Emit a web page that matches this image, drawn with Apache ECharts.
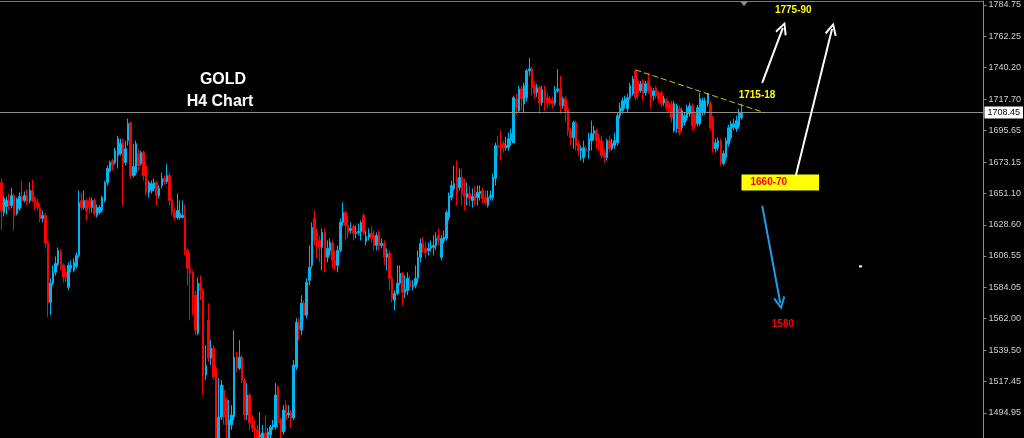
<!DOCTYPE html>
<html>
<head>
<meta charset="utf-8">
<script src="https://cdn.jsdelivr.net/npm/echarts@6/dist/echarts.min.js"></script>
<style>
html,body{margin:0;padding:0;background:#000;}
#chart{width:1024px;height:438px;}
</style>
</head>
<body>
<div id="chart"></div>
<script>
// H4 gold candles: [open, close, low, high]
const candles = [
[1658.6,1638.8,1624.6,1661.5],[1637.4,1647.3,1634.5,1649.4],[1641.6,1645.9,1636.0,1648.7],[1645.9,1642.3,1638.8,1650.8],
[1642.3,1649.4,1640.2,1655.1],[1649.4,1635.3,1624.6,1650.8],[1636.7,1646.6,1635.3,1648.0],[1640.2,1648.7,1638.8,1651.6],
[1648.7,1645.9,1640.9,1660.0],[1645.9,1649.4,1644.5,1652.3],[1649.4,1645.2,1642.3,1653.7],[1645.9,1653.0,1643.8,1658.6],
[1653.0,1645.9,1644.5,1660.8],[1647.3,1644.5,1638.8,1648.7],[1644.5,1640.9,1638.8,1647.3],[1640.9,1633.1,1630.3,1643.8],
[1633.1,1635.3,1630.3,1638.8],[1635.3,1615.4,1611.9,1637.4],[1616.1,1573.6,1563.0,1617.5],[1573.6,1587.1,1564.4,1590.6],
[1587.1,1594.9,1585.6,1599.8],[1594.9,1601.2,1592.7,1606.2],[1600.5,1610.4,1599.1,1612.6],[1609.0,1599.8,1596.3,1611.2],
[1599.8,1591.3,1587.8,1601.2],[1594.9,1591.3,1587.8,1597.7],[1584.2,1599.8,1582.1,1602.0],[1597.7,1599.8,1594.9,1603.4],
[1596.3,1602.0,1594.9,1604.8],[1599.1,1606.9,1597.7,1609.0],[1606.9,1644.5,1605.5,1653.0],[1645.9,1640.9,1638.8,1651.6],
[1640.9,1645.9,1639.5,1653.0],[1645.9,1638.8,1631.7,1647.3],[1645.9,1640.9,1636.7,1648.7],[1640.9,1645.9,1637.4,1648.0],
[1645.9,1636.7,1634.5,1647.3],[1635.3,1640.9,1633.8,1643.0],[1637.4,1640.9,1636.0,1642.3],[1638.8,1648.0,1637.4,1649.4],
[1645.9,1658.6,1644.5,1660.0],[1658.6,1668.6,1656.5,1670.7],[1667.1,1672.8,1665.7,1674.2],[1674.2,1670.7,1667.1,1675.6],
[1672.8,1681.3,1671.4,1683.4],[1677.8,1689.8,1668.6,1691.9],[1679.2,1686.3,1677.8,1689.8],[1686.3,1672.1,1642.3,1689.8],
[1672.8,1682.7,1670.7,1688.4],[1688.4,1700.4,1684.9,1704.0],[1701.2,1663.6,1661.5,1701.9],[1663.6,1670.0,1662.2,1686.3],
[1665.7,1686.3,1663.6,1688.4],[1679.2,1670.7,1667.1,1682.7],[1672.1,1679.9,1670.7,1681.3],[1679.9,1663.6,1660.0,1681.3],
[1670.7,1651.6,1649.4,1674.2],[1651.6,1658.6,1648.0,1660.0],[1653.0,1657.9,1650.8,1660.0],[1654.4,1658.6,1652.3,1661.5],
[1658.6,1649.4,1642.3,1660.0],[1649.4,1654.4,1647.3,1656.5],[1656.5,1661.5,1654.4,1665.7],[1661.5,1659.3,1657.2,1663.6],
[1659.3,1663.6,1657.9,1672.1],[1663.6,1645.9,1642.3,1665.7],[1645.9,1637.4,1635.3,1648.0],[1637.4,1633.8,1631.7,1640.2],
[1633.8,1638.8,1632.4,1650.8],[1633.8,1636.7,1632.4,1645.9],[1633.8,1635.3,1633.1,1645.9],[1634.5,1610.4,1606.9,1643.0],
[1610.4,1597.7,1585.6,1611.9],[1597.7,1594.2,1560.8,1609.0],[1594.9,1577.1,1564.4,1596.3],[1578.6,1553.8,1550.2,1582.1],
[1551.6,1587.1,1550.2,1591.3],[1587.1,1582.1,1575.0,1592.7],[1582.1,1521.9,1507.7,1583.5],[1521.9,1529.0,1518.3,1543.1],
[1560.8,1533.9,1531.1,1572.9],[1533.9,1541.0,1529.0,1546.7],[1541.0,1520.5,1518.3,1543.1],[1526.8,1477.2,1472.3,1529.0],
[1477.2,1492.1,1472.3,1519.7],[1492.1,1514.8,1490.0,1518.3],[1511.2,1492.1,1486.5,1514.8],[1504.2,1486.5,1477.2,1505.6],
[1477.2,1490.0,1472.3,1504.2],[1486.5,1493.5,1482.9,1500.6],[1492.1,1534.6,1490.0,1553.8],[1534.6,1526.8,1524.0,1538.2],
[1526.8,1534.6,1525.4,1546.7],[1534.6,1518.3,1516.2,1536.1],[1518.3,1493.5,1490.0,1519.7],[1493.5,1507.7,1490.0,1516.2],
[1507.7,1487.9,1482.9,1509.1],[1487.9,1484.3,1481.5,1493.5],[1484.3,1482.9,1477.2,1490.0],[1482.9,1477.2,1472.3,1486.5],
[1478.0,1479.4,1472.3,1495.7],[1477.2,1480.8,1472.3,1486.5],[1480.8,1477.2,1472.3,1493.5],[1477.2,1481.5,1472.3,1484.3],
[1479.4,1485.0,1475.8,1486.5],[1485.0,1486.5,1482.9,1490.0],[1485.0,1507.7,1482.9,1516.2],[1513.4,1487.9,1484.3,1514.8],
[1490.0,1481.5,1477.2,1491.4],[1481.5,1497.1,1479.4,1500.6],[1500.6,1490.0,1482.9,1504.2],[1493.5,1495.0,1491.4,1500.6],
[1495.0,1491.4,1484.3,1497.1],[1491.4,1529.0,1490.0,1532.5],[1527.5,1559.4,1525.4,1562.3],[1559.4,1553.8,1546.7,1562.3],
[1553.8,1572.9,1550.2,1578.6],[1572.9,1564.4,1560.8,1575.0],[1564.4,1587.8,1562.3,1590.6],[1589.2,1598.4,1585.6,1614.0],
[1599.8,1626.7,1597.7,1630.3],[1633.1,1617.5,1614.0,1638.8],[1623.2,1617.5,1604.8,1626.0],[1617.5,1612.6,1602.0,1621.1],
[1612.6,1623.2,1596.3,1626.0],[1623.2,1605.5,1594.9,1626.0],[1605.5,1611.9,1602.0,1617.5],[1610.4,1616.1,1606.9,1619.0],
[1615.4,1603.4,1597.7,1617.5],[1603.4,1599.8,1596.3,1610.4],[1599.8,1610.4,1594.9,1614.0],[1610.4,1630.3,1609.0,1633.1],
[1630.3,1637.4,1628.2,1644.5],[1637.4,1628.2,1617.5,1638.8],[1628.2,1623.2,1619.0,1635.3],[1624.6,1626.0,1622.5,1630.3],
[1627.5,1622.5,1617.5,1628.9],[1622.5,1623.2,1619.0,1628.2],[1623.2,1623.9,1621.1,1629.6],[1623.9,1630.3,1617.5,1631.7],
[1635.3,1623.2,1621.1,1636.7],[1616.8,1620.4,1614.0,1624.6],[1619.7,1622.5,1617.5,1626.0],[1622.5,1619.0,1616.1,1627.5],
[1621.1,1614.0,1610.4,1624.6],[1614.0,1621.1,1610.4,1623.2],[1623.2,1614.0,1610.4,1624.6],[1614.0,1615.4,1611.9,1619.0],
[1615.4,1605.5,1599.8,1617.5],[1605.5,1608.3,1596.3,1611.9],[1608.3,1590.6,1582.1,1610.4],[1590.6,1576.4,1573.6,1592.7],
[1575.0,1580.0,1567.9,1582.1],[1580.0,1587.1,1578.6,1599.8],[1587.1,1594.2,1585.6,1599.8],[1594.2,1580.7,1571.5,1594.9],
[1580.7,1582.8,1576.4,1592.7],[1582.1,1590.6,1578.6,1594.9],[1589.2,1584.2,1582.1,1592.7],[1584.2,1585.6,1582.1,1589.2],
[1585.6,1590.6,1583.5,1599.8],[1590.6,1605.5,1587.1,1610.4],[1605.5,1615.4,1602.0,1619.0],[1615.4,1611.9,1609.0,1619.7],
[1611.9,1609.0,1604.8,1616.8],[1610.4,1611.9,1606.9,1616.1],[1611.9,1613.3,1609.7,1617.5],[1612.6,1614.0,1606.9,1621.1],
[1614.0,1619.0,1610.4,1623.2],[1621.1,1617.5,1614.0,1626.0],[1605.5,1619.0,1603.4,1621.1],[1617.5,1619.7,1615.4,1624.6],
[1619.0,1637.4,1617.5,1638.8],[1633.8,1649.4,1631.7,1651.6],[1648.0,1656.5,1645.9,1660.0],[1654.4,1657.9,1653.0,1670.7],
[1662.2,1650.8,1642.3,1674.2],[1655.1,1662.2,1653.0,1668.6],[1662.2,1650.8,1642.3,1668.6],[1650.8,1648.7,1638.8,1661.5],
[1648.0,1650.8,1642.3,1658.6],[1650.8,1647.3,1641.6,1656.5],[1645.9,1648.7,1640.9,1654.4],[1650.8,1645.9,1642.3,1655.8],
[1648.0,1651.6,1642.3,1656.5],[1650.8,1652.3,1645.9,1656.5],[1653.0,1647.3,1643.8,1655.1],[1648.0,1644.5,1642.3,1653.0],
[1642.3,1648.0,1640.9,1653.0],[1648.0,1649.4,1645.9,1653.0],[1648.0,1662.2,1645.9,1665.0],[1661.5,1684.9,1656.5,1687.0],
[1684.9,1683.4,1677.8,1691.9],[1687.0,1682.7,1674.2,1695.5],[1686.3,1683.4,1679.9,1688.4],[1683.4,1684.9,1681.3,1691.2],
[1683.4,1689.8,1681.3,1694.1],[1688.4,1693.4,1684.9,1696.9],[1687.0,1718.9,1686.3,1720.3],[1718.2,1711.8,1706.1,1721.7],
[1709.7,1725.2,1708.2,1727.4],[1725.2,1718.2,1709.7,1727.4],[1714.6,1727.4,1708.2,1729.5],[1718.9,1738.0,1716.7,1739.4],
[1738.0,1739.4,1734.5,1747.2],[1739.4,1725.9,1720.3,1740.8],[1727.4,1721.7,1718.2,1730.9],[1722.4,1725.9,1719.6,1728.8],
[1725.9,1715.3,1707.5,1727.4],[1715.3,1724.5,1713.2,1727.4],[1724.5,1718.2,1709.7,1727.4],[1718.9,1715.3,1711.1,1722.4],
[1718.2,1715.3,1713.2,1720.3],[1716.7,1714.6,1711.1,1719.6],[1715.3,1723.8,1713.2,1727.4],[1723.8,1725.2,1722.4,1739.4],
[1725.2,1713.2,1707.5,1734.5],[1713.2,1718.2,1711.1,1719.6],[1718.2,1709.7,1701.2,1720.3],[1711.1,1695.5,1691.9,1713.2],
[1695.5,1690.5,1684.9,1697.6],[1690.5,1701.2,1682.7,1702.6],[1701.2,1684.9,1681.3,1702.6],[1686.3,1681.3,1677.8,1688.4],
[1681.3,1682.7,1674.2,1684.9],[1676.4,1683.4,1672.8,1688.4],[1682.7,1680.6,1677.8,1684.9],[1681.3,1689.8,1675.6,1694.1],
[1688.4,1693.4,1681.3,1702.6],[1693.4,1695.5,1688.4,1699.0],[1695.5,1688.4,1682.7,1696.9],[1690.5,1686.3,1681.3,1693.4],
[1688.4,1677.8,1675.6,1691.9],[1679.9,1676.4,1672.8,1682.7],[1676.4,1688.4,1674.2,1689.8],[1688.4,1682.7,1679.9,1691.9],
[1682.7,1686.3,1681.3,1689.8],[1684.9,1688.4,1682.7,1694.1],[1687.0,1706.1,1684.9,1708.2],[1706.1,1711.8,1704.0,1715.3],
[1709.7,1716.7,1707.5,1718.9],[1714.6,1718.2,1711.1,1720.3],[1711.1,1718.9,1708.2,1721.7],[1718.9,1727.4,1717.5,1729.5],
[1721.7,1732.3,1720.3,1734.5],[1738.0,1718.9,1716.7,1738.7],[1730.9,1722.4,1718.2,1733.0],[1723.8,1728.8,1722.4,1730.9],
[1730.9,1721.7,1716.7,1732.3],[1722.4,1728.8,1720.3,1730.9],[1730.9,1723.8,1721.7,1736.6],[1725.9,1718.2,1711.1,1727.4],
[1720.3,1723.8,1716.7,1725.9],[1725.9,1720.3,1718.2,1727.4],[1722.4,1718.2,1715.3,1723.8],[1722.4,1714.6,1712.5,1723.8],
[1715.3,1718.2,1713.2,1720.3],[1716.7,1711.8,1709.7,1718.9],[1715.3,1711.1,1708.2,1716.7],[1714.6,1704.7,1701.2,1716.7],
[1695.5,1714.6,1694.1,1716.7],[1696.9,1713.2,1694.1,1714.6],[1711.1,1694.1,1691.9,1713.2],[1697.6,1709.7,1695.5,1711.8],
[1701.2,1706.1,1699.0,1708.2],[1704.7,1711.8,1702.6,1713.9],[1707.5,1713.2,1705.4,1715.3],[1713.2,1699.0,1695.5,1714.6],
[1707.5,1699.0,1696.9,1709.7],[1700.4,1711.8,1698.3,1713.9],[1700.4,1718.2,1699.0,1722.4],[1708.2,1716.7,1706.1,1718.9],
[1708.2,1716.7,1706.8,1718.9],[1714.6,1721.7,1712.5,1722.4],[1714.6,1697.6,1695.5,1716.7],[1704.0,1682.7,1679.9,1706.1],
[1682.7,1687.0,1679.9,1689.8],[1683.4,1688.4,1681.3,1690.5],[1688.4,1672.8,1670.7,1689.8],[1672.1,1679.2,1670.7,1681.3],
[1676.4,1688.4,1674.2,1690.5],[1686.3,1697.6,1684.1,1699.7],[1690.5,1700.4,1688.4,1702.6],[1697.6,1700.4,1695.5,1704.0],
[1696.9,1702.6,1694.8,1706.1],[1699.0,1708.2,1696.9,1711.1],[1704.7,1708.45,1703.3,1714.6]
];

// right-hand price scale labels
const tickLabels = ['1784.75','1762.25','1740.20','1717.70','1695.65','1673.15','1651.10','1628.60','1606.55','1584.05','1562.00','1539.50','1517.45','1494.95'];
const yMin = 1477.2, yMax = 1787.6;
const slots = 380; // bar slots across the window (incl. empty right margin)
const categories = Array.from({length: slots}, (_, i) => String(i));

const currentPrice = 1708.45;
// trend line (bar index, price)
const trendStart = [245, 1738.7], trendEnd = [295, 1708.2];
// arrows: [tail, head]
const arrowShort = [[294, 1729.5], [302, 1768.5]];
const arrowLong = [[307, 1663.6], [321, 1767.8]];
const arrowDown = [[294, 1642.3], [301, 1572.9]];
// support zone box
const zoneBox = [[286, 1664.3], [316, 1653.0]];
const labels = [
  {text: '1715-18', at: [292, 1720.6], color: '#ffff00'},
  {text: '1775-90', at: [306, 1781.2], color: '#ffff00'},
  {text: '1580', at: [302, 1558.0], color: '#ff0000'}
];

const chevron = 'path://M0,10 L5,0 L10,10 L8.6,11 L5,3.4 L1.4,11 Z';
const ticks = tickLabels.map(Number);

const chart = echarts.init(document.getElementById('chart'), null, {renderer: 'canvas'});
chart.setOption({
  backgroundColor: '#000',
  animation: false,
  grid: {left: 0, right: 39, top: 1, bottom: 0},
  xAxis: {
    type: 'category', data: categories, position: 'top', boundaryGap: true,
    axisLine: {show: true, lineStyle: {color: '#7a7a7a', width: 1}},
    axisTick: {show: false}, axisLabel: {show: false}, splitLine: {show: false}
  },
  yAxis: {
    type: 'value', position: 'right', min: yMin, max: yMax, scale: true,
    axisLine: {show: true, lineStyle: {color: '#8a8a8a', width: 1}},
    axisTick: {show: true, customValues: ticks, length: 3, lineStyle: {color: '#8a8a8a'}},
    axisLabel: {show: true, customValues: ticks, formatter: v => v.toFixed(2), color: '#d0d0d0',
      fontSize: 9, fontFamily: 'Liberation Sans', margin: 5},
    splitLine: {show: false}
  },
  graphic: [
    {type: 'text', x: 223, y: 80, style: {text: 'GOLD', fill: '#ffffff', font: 'bold 16px "Liberation Sans"', align: 'center', verticalAlign: 'middle'}},
    {type: 'text', x: 220, y: 102, style: {text: 'H4 Chart', fill: '#ffffff', font: 'bold 16px "Liberation Sans"', align: 'center', verticalAlign: 'middle'}}
  ],
  series: [{
    type: 'candlestick',
    data: candles,
    barWidth: 2,
    clip: true,
    itemStyle: {color: '#00b4f0', color0: '#ff0000', borderColor: '#00b4f0', borderColor0: '#ff0000', borderWidth: 1},
    markLine: {
      silent: true, symbol: 'none',
      data: [
        {yAxis: currentPrice, lineStyle: {color: '#8c8c8c', width: 1, type: 'solid'},
          label: {show: true, position: 'end', formatter: '1708.45', color: '#000', backgroundColor: '#fff',
            fontSize: 9, fontFamily: 'Liberation Sans', padding: [2, 3, 1, 3], distance: 1}},
        [{coord: trendStart, symbol: 'none', lineStyle: {color: '#c8c800', width: 1, type: [6, 3]}, label: {show: false}},
         {coord: trendEnd, symbol: 'none'}],
        [{coord: arrowShort[0], symbol: 'none', lineStyle: {color: '#ffffff', width: 2, type: 'solid'}, label: {show: false}},
         {coord: arrowShort[1], symbol: chevron, symbolSize: [12, 13]}],
        [{coord: arrowLong[0], symbol: 'none', lineStyle: {color: '#ffffff', width: 2, type: 'solid'}, label: {show: false}},
         {coord: arrowLong[1], symbol: chevron, symbolSize: [12, 13]}],
        [{coord: arrowDown[0], symbol: 'none', lineStyle: {color: '#1c9fe6', width: 2, type: 'solid'}, label: {show: false}},
         {coord: arrowDown[1], symbol: chevron, symbolSize: [12, 13]}]
      ]
    },
    markArea: {
      silent: true,
      data: [[
        {coord: zoneBox[0], itemStyle: {color: '#ffff00', opacity: 1},
         label: {show: true, formatter: '1660-70', position: 'insideLeft', distance: 9, color: '#ff0000',
           fontWeight: 'bold', fontSize: 10, fontFamily: 'Liberation Sans'}},
        {coord: zoneBox[1]}
      ]]
    },
    markPoint: {
      silent: true,
      data: labels.map(l => ({
        coord: l.at, symbol: 'rect', symbolSize: 1, itemStyle: {color: 'rgba(0,0,0,0)'},
        label: {show: true, position: 'inside', formatter: l.text, color: l.color, fontWeight: 'bold',
          fontSize: 10, fontFamily: 'Liberation Sans'}
      })).concat([
        {coord: [332, 1599.1], symbol: 'rect', symbolSize: [3, 2], itemStyle: {color: '#ffffff'}, label: {show: false}},
        {coord: [287, 1785.6], symbol: 'triangle', symbolRotate: 180, symbolSize: [8, 5], itemStyle: {color: '#8a8a8a'}, label: {show: false}}
      ])
    }
  }]
});
</script>
</body>
</html>
